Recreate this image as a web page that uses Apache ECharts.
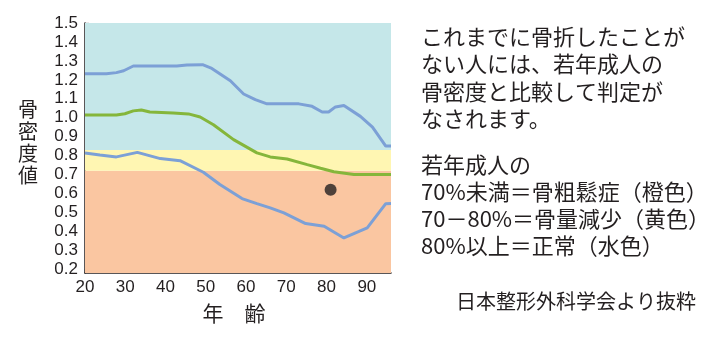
<!DOCTYPE html>
<html><head><meta charset="utf-8">
<script src="https://cdn.jsdelivr.net/npm/echarts@6/dist/echarts.min.js"></script>
<style>html,body{margin:0;padding:0;background:#fff}#c{width:716px;height:344px}</style>
</head><body><div id="c"></div>
<script>
// ---- data ----
const upperAges   = [20, 25.3, 27.8, 29.6, 32, 42.8, 45.3, 49.2, 51.5, 56.1, 59.4, 62.3, 65.2, 73.1, 76.4, 78.9, 80.5, 82.2, 84.3, 88.4, 91.4, 94.7, 96];
const upperValues = [1.232, 1.232, 1.238, 1.248, 1.273, 1.273, 1.278, 1.28, 1.26, 1.195, 1.125, 1.095, 1.073, 1.073, 1.06, 1.03, 1.03, 1.057, 1.064, 1.007, 0.95, 0.85, 0.85];
const meanAges    = [20, 27.8, 29.9, 32, 34, 36.1, 41.9, 45.7, 48.6, 51.9, 56.9, 62.7, 66, 70.2, 75.2, 78.5, 81.8, 86.8, 96];
const meanValues  = [1.014, 1.014, 1.021, 1.036, 1.041, 1.03, 1.025, 1.02, 1.004, 0.963, 0.884, 0.814, 0.793, 0.782, 0.752, 0.733, 0.715, 0.70, 0.70];
const lowerAges   = [20, 23.7, 27.8, 33, 38.7, 43.6, 49.4, 53.5, 59, 62.7, 66, 69.4, 74.8, 79.4, 84.3, 87.2, 90.1, 94.7, 96];
const lowerValues = [0.814, 0.803, 0.793, 0.817, 0.784, 0.773, 0.712, 0.647, 0.573, 0.546, 0.524, 0.497, 0.441, 0.427, 0.365, 0.392, 0.418, 0.546, 0.547];
const patientAges   = [81];
const patientValues = [0.62];
const xTickValues = [20, 30, 40, 50, 60, 70, 80, 90];
const yTickValues = [0.2, 0.3, 0.4, 0.5, 0.6, 0.7, 0.8, 0.9, 1.0, 1.1, 1.2, 1.3, 1.4, 1.5];
const bandEdges = [0.18, 0.72, 0.83, 1.5];
const bandColors = ['#fac6a1', '#fff6b2', '#c5e7e9'];
const noteLines1 = ['これまでに骨折したことが', 'ない人には、若年成人の', '骨密度と比較して判定が', 'なされます。'];
const noteLines2 = ['若年成人の', '70%未満＝骨粗鬆症（橙色）', '70－80%＝骨量減少（黄色）', '80%以上＝正常（水色）'];
const sourceText = '日本整形外科学会より抜粋';
const yName = '骨密度値';
const xName = '年　齢';

const pairs = (xs, ys) => xs.map((x, i) => [x, ys[i]]);
const FONT = '"Noto Sans CJK JP", "Noto Sans", sans-serif';
const NUMFONT = '"Liberation Sans", Arial, sans-serif';
const INK = '#231f20';

const chart = echarts.init(document.getElementById('c'), null, {renderer: 'canvas'});
const lineStyle = (c) => ({color: c, width: 3});
chart.setOption({
  animation: false,
  grid: {left: 85, top: 23, right: 325, bottom: 71, containLabel: false},
  xAxis: {
    type: 'value', min: 20, max: 96,
    axisLine: {lineStyle: {color: INK, width: 1.5}},
    axisTick: {inside: true, length: 4, customValues: xTickValues, lineStyle: {color: INK, width: 1.2}},
    axisLabel: {color: INK, fontSize: 17, fontFamily: NUMFONT, margin: 6, customValues: xTickValues},
    splitLine: {show: false}
  },
  yAxis: {
    type: 'value', min: bandEdges[0], max: bandEdges[3],
    axisLine: {show: true, lineStyle: {color: INK, width: 1.5}},
    axisTick: {show: true, inside: true, length: 4, customValues: yTickValues, lineStyle: {color: INK, width: 1.2}},
    axisLabel: {color: INK, fontSize: 17, fontFamily: NUMFONT, margin: 7,
      customValues: yTickValues, formatter: v => v.toFixed(1)},
    splitLine: {show: false}
  },
  series: [
    {
      type: 'line', data: pairs(upperAges, upperValues), showSymbol: false, lineStyle: lineStyle('#7ca0d6'), z: 3,
      markArea: {silent: true, data: bandColors.map((c, i) => [
        {yAxis: bandEdges[i], itemStyle: {color: c}}, {yAxis: bandEdges[i + 1]}
      ])}
    },
    {type: 'line', data: pairs(meanAges, meanValues), showSymbol: false, lineStyle: lineStyle('#85b63b'), z: 3},
    {type: 'line', data: pairs(lowerAges, lowerValues), showSymbol: false, lineStyle: lineStyle('#7ca0d6'), z: 3},
    {type: 'scatter', data: pairs(patientAges, patientValues), symbolSize: 12, itemStyle: {color: INK}, z: 4}
  ],
  graphic: [
    {type: 'text', left: 18, top: 99, style: {text: yName.split('').join('\n'), font: '20px ' + FONT, lineHeight: 21.7, fill: INK}},
    {type: 'text', x: 234, y: 313, style: {text: xName, font: '21px ' + FONT, fill: INK, align: 'center', verticalAlign: 'middle'}},
    {type: 'text', x: 421, y: 23, style: {text: noteLines1.join('\n'), font: '22px ' + FONT, lineHeight: 27.3, fill: INK}},
    {type: 'text', x: 421, y: 151, style: {text: noteLines2.join('\n'), font: '22px ' + FONT, lineHeight: 27, fill: INK}},
    {type: 'text', x: 576, y: 301, style: {text: sourceText, font: '20px ' + FONT, fill: INK, align: 'center', verticalAlign: 'middle'}}
  ]
});
</script></body></html>
